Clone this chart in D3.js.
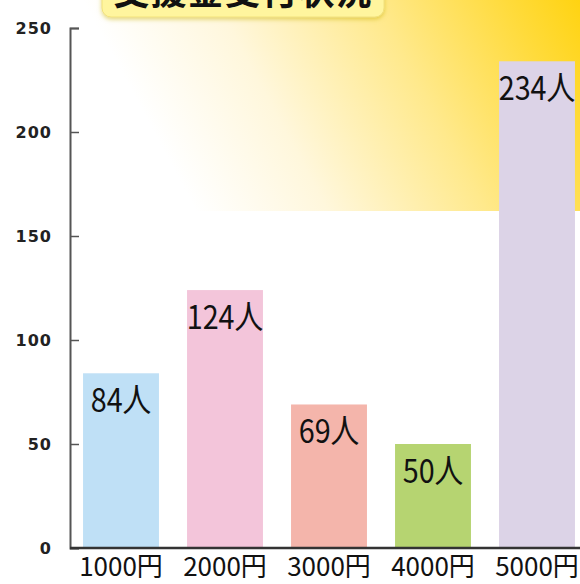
<!DOCTYPE html>
<html>
<head>
<meta charset="utf-8">
<script src="https://cdn.jsdelivr.net/npm/d3@7"></script>
<style>
  body { margin: 0; background: #fff; }
  svg { display: block; }
  .yaxis text { font-family: "DejaVu Sans", sans-serif; font-weight: bold; font-size: 16px; fill: #222; letter-spacing: 1px; }
  .xaxis text { font-family: "Noto Sans CJK JP", sans-serif; font-size: 26px; fill: #111; }
  .barlabel { font-family: "Noto Sans CJK JP", sans-serif; font-size: 33px; fill: #111; }
</style>
</head>
<body>
<svg id="chart" width="580" height="584"></svg>
<script>
// data
const categories = ["1000円", "2000円", "3000円", "4000円", "5000円"];
const counts = [84, 124, 69, 50, 234];
const barLabels = ["84人", "124人", "69人", "50人", "234人"];
const yTicks = [0, 50, 100, 150, 200, 250];
const barColors = ["#bfe0f6", "#f3c5da", "#f4b5ab", "#b6d471", "#dcd3e7"];
const titleText = "支援金受付状況";

const svg = d3.select("#chart");
const width = 580, height = 584;

// yellow glow in the top right corner
let defs = svg.append("defs");
let grad = defs.append("linearGradient")
    .attr("id", "glow")
    .attr("gradientUnits", "userSpaceOnUse")
    .attr("x1", 190).attr("y1", 200)
    .attr("x2", 600).attr("y2", -20);
grad.append("stop").attr("offset", "0%").attr("stop-color", "#ffffff");
grad.append("stop").attr("offset", "25%").attr("stop-color", "#fff7dc");
grad.append("stop").attr("offset", "55%").attr("stop-color", "#ffe98c");
grad.append("stop").attr("offset", "80%").attr("stop-color", "#ffdb3c");
grad.append("stop").attr("offset", "100%").attr("stop-color", "#ffd000");

let blur = defs.append("filter").attr("id", "soft")
    .attr("x", "-10%").attr("y", "-10%").attr("width", "120%").attr("height", "150%");
blur.append("feDropShadow").attr("dx", 0).attr("dy", 2).attr("stdDeviation", 2)
    .attr("flood-color", "#c8b000").attr("flood-opacity", 0.5);

svg.append("rect")
    .attr("x", 0).attr("y", 0)
    .attr("width", width).attr("height", 211)
    .attr("fill", "url(#glow)");

// title box, cut off by the top edge
svg.append("rect")
    .attr("x", 102).attr("y", -30)
    .attr("width", 282).attr("height", 47)
    .attr("rx", 9)
    .attr("fill", "#fff59e")
    .attr("stroke", "#f2e27a")
    .attr("filter", "url(#soft)");
svg.append("text")
    .attr("x", 243).attr("y", 5)
    .attr("text-anchor", "middle")
    .style("font-family", "'Noto Sans CJK JP', sans-serif")
    .style("font-weight", "bold")
    .style("font-size", "36px")
    .style("letter-spacing", "1px")
    .style("fill", "#111")
    .text(titleText);

// scales
let x = d3.scaleBand()
    .domain(categories)
    .range([69, 589])
    .paddingInner(0.27)
    .paddingOuter(0.135);

let y = d3.scaleLinear()
    .domain([0, 250])
    .range([548, 28]);

// bars
let data = categories.map((c, i) => ({cat: c, val: counts[i], label: barLabels[i], color: barColors[i]}));

svg.selectAll(".bar")
    .data(data)
    .enter().append("rect")
    .attr("class", "bar")
    .attr("x", d => x(d.cat))
    .attr("y", d => y(d.val))
    .attr("width", x.bandwidth())
    .attr("height", d => y(0) - y(d.val))
    .attr("fill", d => d.color);

// labels inside the top of each bar
svg.selectAll(".barlabel")
    .data(data)
    .enter().append("text")
    .attr("class", "barlabel")
    .attr("text-anchor", "middle")
    .attr("transform", d => "translate(" + (x(d.cat) + x.bandwidth() / 2) + "," + (y(d.val) + 39) + ") scale(0.87,1)")
    .text(d => d.label);

// y axis, ticks pointing inward
let yAxis = d3.axisLeft(y)
    .tickValues(yTicks)
    .tickSize(-9)
    .tickPadding(18);
let gy = svg.append("g")
    .attr("class", "yaxis")
    .attr("transform", "translate(70,0)")
    .call(yAxis);
gy.select(".domain").attr("stroke", "#555").attr("stroke-width", 2);
gy.selectAll(".tick line").attr("stroke", "#555").attr("stroke-width", 1.5);

// x axis
let xAxis = d3.axisBottom(x)
    .tickSize(0)
    .tickPadding(10);
let gx = svg.append("g")
    .attr("class", "xaxis")
    .attr("transform", "translate(0,548)")
    .call(xAxis);
gx.select(".domain").remove();
gx.append("line")
    .attr("x1", 70).attr("x2", width)
    .attr("y1", 0).attr("y2", 0)
    .attr("stroke", "#333")
    .attr("stroke-width", 2.5);
</script>
</body>
</html>
